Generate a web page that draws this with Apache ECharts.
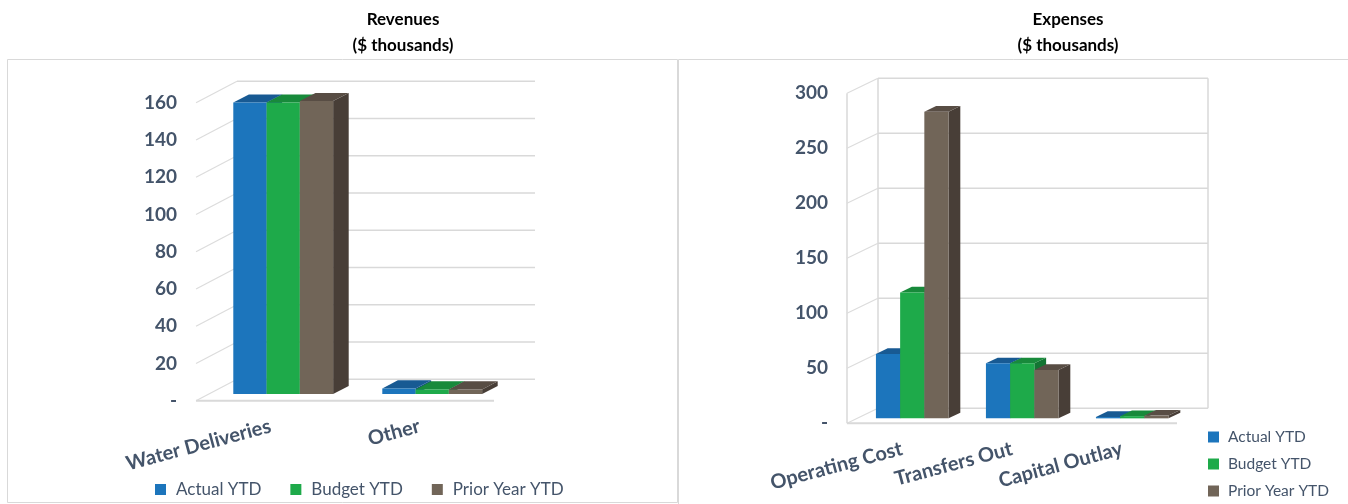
<!DOCTYPE html>
<html>
<head>
<meta charset="utf-8">
<script src="https://cdn.jsdelivr.net/npm/echarts@6/dist/echarts.min.js"></script>
<style>
  html, body { margin: 0; padding: 0; background: #fff; }
  #chart { width: 1348px; height: 504px; }
</style>
</head>
<body>
<div id="chart"></div>
<script>
// Revenues ($ thousands)
const revCategories = ['Water Deliveries', 'Other'];
const revActual = [156.5, 3.0];
const revBudget = [156.5, 2.5];
const revPrior  = [157.3, 2.5];
const revTicks  = [0, 20, 40, 60, 80, 100, 120, 140, 160];

// Expenses ($ thousands)
const expCategories = ['Operating Cost', 'Transfers Out', 'Capital Outlay'];
const expActual = [58.5, 50, 1.2];
const expBudget = [114.5, 50, 2.0];
const expPrior  = [278.7, 44, 2.5];
const expTicks  = [0, 50, 100, 150, 200, 250, 300];

const seriesNames = ['Actual YTD', 'Budget YTD', 'Prior Year YTD'];

// face colours: front, top, side
const palette = [
  { front: '#1c75bc', top: '#185a93', side: '#144d80' },
  { front: '#1eaa4a', top: '#188a3b', side: '#137533' },
  { front: '#716558', top: '#584d44', side: '#483e37' }
];

const FONT = 'Lato, "Open Sans", sans-serif';
const LABEL_COLOR = '#44546a';
const WALL_COLOR = '#d9d9d9';

// perspective settings for each panel: floor depth vector, bar depth span, group width
const revView = { D: [41, -21.4], f0: 0.31, f1: 0.69, group: 0.67, ticks: revTicks, sideWall: false };
const expView = { D: [31, -15], f0: 0.33, f1: 0.71, group: 0.66, ticks: expTicks, sideWall: true };

function wallRender(view) {
  return function (params, api) {
    const cs = params.coordSys;
    const v = api.value(1);
    const x0 = cs.x, x1 = cs.x + cs.width;
    const y = api.coord([0, v])[1];
    const dx = view.D[0], dy = view.D[1];
    const style = { stroke: WALL_COLOR, lineWidth: 1.5 };
    const children = [
      { type: 'line', shape: { x1: x0, y1: y, x2: x0 + dx, y2: y + dy }, style: { stroke: '#dcdcdc', lineWidth: 1.2 } },
      { type: 'line', shape: { x1: x0 + dx, y1: y + dy, x2: x1 + dx, y2: y + dy }, style: style }
    ];
    if (v === view.ticks[0]) {
      const yMax = api.coord([0, view.ticks[view.ticks.length - 1]])[1];
      children.push({ type: 'line', shape: { x1: x0, y1: y, x2: x1, y2: y }, style: { stroke: WALL_COLOR, lineWidth: 2 } });
      if (view.sideWall) {
        children.push({ type: 'line', shape: { x1: x0, y1: yMax, x2: x0, y2: y }, style: style });
        children.push({ type: 'line', shape: { x1: x0 + dx, y1: yMax + dy, x2: x0 + dx, y2: y + dy }, style: style });
        children.push({ type: 'line', shape: { x1: x1 + dx, y1: yMax + dy, x2: x1 + dx, y2: y + dy }, style: style });
      }
    }
    return { type: 'group', children: children };
  };
}

function barRender(view, sIdx) {
  const c = palette[sIdx];
  return function (params, api) {
    const cat = api.value(0), val = api.value(1);
    const base = api.coord([cat, 0]);
    const top = api.coord([cat, val]);
    const band = api.size([1, 0])[0];
    const w = band * view.group / 3;
    const ox = view.D[0] * view.f0, oy = view.D[1] * view.f0;
    const xl = base[0] - band * view.group / 2 + sIdx * w + ox;
    const xr = xl + w;
    const yb = base[1] + oy, yt = top[1] + oy;
    const dx = view.D[0] * (view.f1 - view.f0), dy = view.D[1] * (view.f1 - view.f0);
    return {
      type: 'group',
      children: [
        { type: 'polygon', shape: { points: [[xr, yt], [xr + dx, yt + dy], [xr + dx, yb + dy], [xr, yb]] }, style: { fill: c.side } },
        { type: 'polygon', shape: { points: [[xl, yt], [xr, yt], [xr + dx, yt + dy], [xl + dx, yt + dy]] }, style: { fill: c.top } },
        { type: 'rect', shape: { x: xl, y: yt, width: w, height: yb - yt }, style: { fill: c.front } }
      ]
    };
  };
}

function barSeries(view, axisIdx, values, sIdx) {
  return {
    name: seriesNames[sIdx],
    type: 'custom',
    xAxisIndex: axisIdx,
    yAxisIndex: axisIdx,
    clip: false,
    z: 3,
    itemStyle: { color: palette[sIdx].front },
    renderItem: barRender(view, sIdx),
    data: values.map((v, i) => [i, v])
  };
}

function wallSeries(view, axisIdx) {
  return {
    type: 'custom',
    xAxisIndex: axisIdx,
    yAxisIndex: axisIdx,
    clip: false,
    silent: true,
    z: 1,
    renderItem: wallRender(view),
    data: view.ticks.map(v => [0, v])
  };
}

const valueLabel = {
  fontFamily: FONT, fontWeight: 'bold', fontSize: 19, color: LABEL_COLOR,
  margin: 19, padding: [9, 0, 0, 0],
  formatter: v => (v === 0 ? '-' : String(v))
};
const catLabel = {
  fontFamily: FONT, fontWeight: 'bold', fontSize: 20, color: LABEL_COLOR,
  rotate: 15, margin: 25, interval: 0
};
const legendText = { fontFamily: FONT, fontSize: 17, color: '#44546a', padding: [0, 0, 0, 5] };
const legendTextSmall = { fontFamily: FONT, fontSize: 15.5, color: '#44546a', padding: [0, 0, 0, 4], lineHeight: 18 };

const chart = echarts.init(document.getElementById('chart'), null, { renderer: 'canvas' });

chart.setOption({
  animation: false,
  backgroundColor: '#ffffff',
  title: [
    { text: 'Revenues\n($ thousands)', left: 398, top: 2, textAlign: 'center',
      textStyle: { fontFamily: FONT, fontWeight: 'bold', fontSize: 17, color: '#000', lineHeight: 26 } },
    { text: 'Expenses\n($ thousands)', left: 1063, top: 2, textAlign: 'center',
      textStyle: { fontFamily: FONT, fontWeight: 'bold', fontSize: 17, color: '#000', lineHeight: 26 } }
  ],
  graphic: [
    { type: 'rect', shape: { x: 7.5, y: 59.5, width: 670, height: 443 }, style: { fill: 'none', stroke: '#d9d9d9', lineWidth: 1 }, silent: true },
    { type: 'rect', shape: { x: 678.5, y: 59.5, width: 700, height: 500 }, style: { fill: 'none', stroke: '#d9d9d9', lineWidth: 1 }, silent: true }
  ],
  legend: [
    { data: seriesNames, orient: 'horizontal', left: 150, top: 476, itemWidth: 11, itemHeight: 11, itemGap: 29,
      icon: 'rect', textStyle: legendText, selectedMode: false },
    { data: seriesNames, orient: 'vertical', left: 1203, top: 423, height: 120, itemWidth: 11, itemHeight: 11, itemGap: 9,
      icon: 'rect', textStyle: legendTextSmall, selectedMode: false }
  ],
  grid: [
    { left: 196, top: 102.7, width: 298, height: 298 },
    { left: 847, top: 93.3, width: 330, height: 330 }
  ],
  xAxis: [
    { type: 'category', gridIndex: 0, data: revCategories, axisLine: { show: false }, axisTick: { show: false }, axisLabel: catLabel },
    { type: 'category', gridIndex: 1, data: expCategories, axisLine: { show: false }, axisTick: { show: false }, axisLabel: catLabel }
  ],
  yAxis: [
    { type: 'value', gridIndex: 0, min: 0, max: 160, interval: 20, axisLine: { show: false }, axisTick: { show: false }, splitLine: { show: false }, axisLabel: valueLabel },
    { type: 'value', gridIndex: 1, min: 0, max: 300, interval: 50, axisLine: { show: false }, axisTick: { show: false }, splitLine: { show: false }, axisLabel: valueLabel }
  ],
  series: [
    wallSeries(revView, 0),
    barSeries(revView, 0, revActual, 0),
    barSeries(revView, 0, revBudget, 1),
    barSeries(revView, 0, revPrior, 2),
    wallSeries(expView, 1),
    barSeries(expView, 1, expActual, 0),
    barSeries(expView, 1, expBudget, 1),
    barSeries(expView, 1, expPrior, 2)
  ]
});
</script>
</body>
</html>
